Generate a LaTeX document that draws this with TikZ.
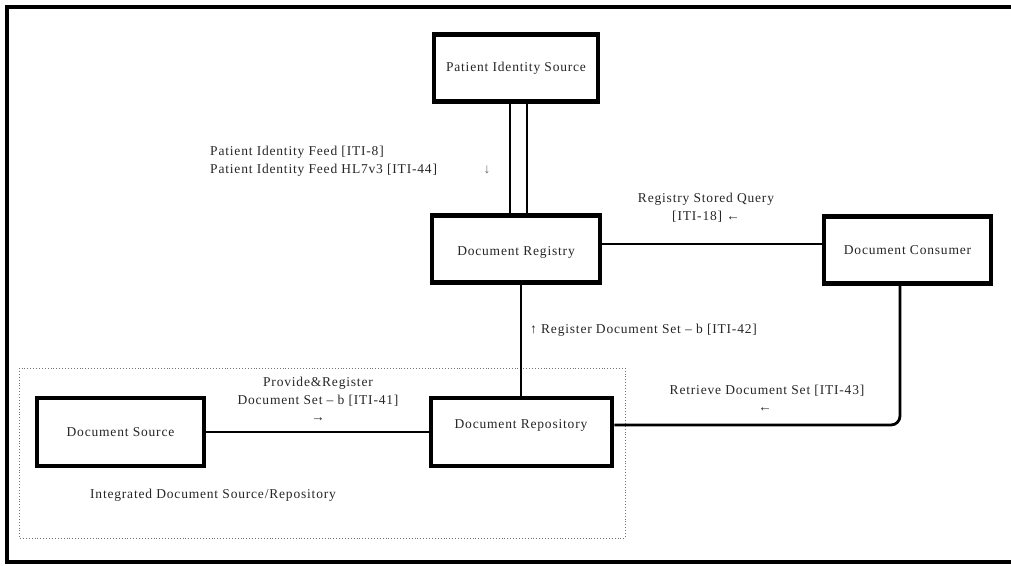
\documentclass[tikz,border=0pt]{standalone}
\usepackage{fontspec}
\setmainfont[LetterSpace=6]{Liberation Serif}
\usetikzlibrary{calc}
\begin{document}
\begin{tikzpicture}[x=1pt,y=-1pt,
  box/.style={draw=black,line width=4.5pt,fill=white,minimum width=#1,minimum height=67pt,inner sep=0pt,font=\fontsize{13.5}{15}\selectfont,text=black!85},
  box/.default=166pt,
  conn/.style={draw=black,line width=2.8pt},
  lbl/.style={font=\fontsize{13.5}{17}\selectfont,text=black!85,inner sep=0pt,align=center},
  arr/.style={font=\fontsize{13.5}{15}\selectfont,text=black!60,inner sep=0pt}]
\useasboundingbox (0,0) rectangle (1011,565);
% outer frame
\draw[line width=4pt] (1020,7) -- (7,7) -- (7,562) -- (1020,562);
% integrated dotted box
\draw[black!55,line width=0.9pt,dotted] (19,368) rectangle (625,538);
% boxes
\node[box=164pt] (pis) at (516,68) {Patient Identity Source};
\node[box=168pt] (reg) at (516,249) {};
\node[lbl] (regtext) at (516,252) {Document Registry};
\node[box=167pt] (cons) at (907.5,250) {Document Consumer};
\node[box=167pt,minimum height=68pt] (src) at (120.5,432) {Document Source};
\node[box=181pt,minimum height=68pt] (repo) at (521.5,432) {};
\node[lbl] (repotext) at (521,425) {Document Repository};
% connectors
\draw[conn] ([xshift=-6pt]pis.south) -- ([xshift=-6pt]reg.north);
\draw[conn] ([xshift=11pt]pis.south) -- ([xshift=11pt]reg.north);
\draw[conn] ([yshift=5pt]reg.east) -- ([yshift=5pt]reg.east -| cons.west);
\draw[conn] ([xshift=5pt]reg.south) -- ([xshift=5pt]reg.south |- repo.north);
\draw[conn] (src.east) -- (repo.west);
\draw[conn,rounded corners=9pt] ([yshift=7pt]repo.east) -| ([xshift=-7.5pt]cons.south);
% labels
\node[lbl,anchor=west] (l1) at (210,152) {Patient Identity Feed [ITI-8]};
\node[lbl,anchor=west] (l2) at (210,170) {Patient Identity Feed HL7v3 [ITI-44]};
\node[arr] (a1) at (487,170) {↓};
\node[lbl] (l3) at (706,199) {Registry Stored Query};
\node[lbl] (l4) at (706,217) {[ITI-18] ←};
\node[lbl,anchor=west] (l5) at (530,330) {↑ Register Document Set – b [ITI-42]};
\node[lbl] (l6) at (318,383) {Provide\&Register};
\node[lbl] (l7) at (318,401) {Document Set – b [ITI-41]};
\node[lbl] (a2) at (318,420) {→};
\node[lbl] (l8) at (767,391) {Retrieve Document Set [ITI-43]};
\node[lbl] (a3) at (765,410) {←};
\node[lbl] (l9) at (213,495) {Integrated Document Source/Repository};
\end{tikzpicture}
\end{document}
